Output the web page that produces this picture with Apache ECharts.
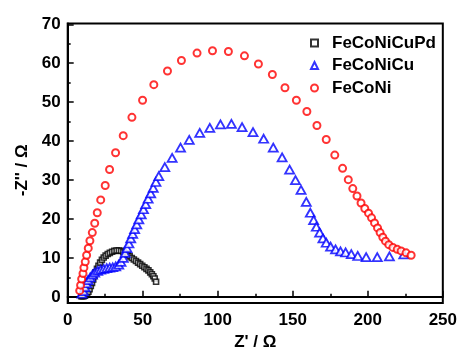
<!DOCTYPE html>
<html>
<head>
<meta charset="utf-8">
<script src="https://cdn.jsdelivr.net/npm/echarts@6/dist/echarts.min.js"></script>
<style>
  html, body { margin: 0; padding: 0; background: #fff; }
  #chart { width: 460px; height: 356px; }
</style>
</head>
<body>
<div id="chart"></div>
<script>
// Nyquist data, [Z', -Z'']
const feCoNiCuPd = [
  [9.0, 0.2], [9.8, 0.2], [10.6, 0.2], [11.4, 0.3], [12.2, 0.5], [13.0, 0.8], [13.8, 1.3],
  [14.6, 2.0], [15.4, 2.8], [16.2, 3.6], [17.0, 4.5], [17.8, 5.4], [18.6, 6.3], [19.5, 7.2],
  [20.5, 8.0], [21.6, 8.8], [22.8, 9.5], [24.0, 10.1], [25.3, 10.6], [26.7, 11.0], [28.1, 11.3],
  [29.6, 11.6], [31.1, 11.8], [32.6, 11.9], [34.1, 11.9], [35.6, 11.8], [37.1, 11.5], [38.5, 11.2],
  [39.9, 10.8], [41.3, 10.4], [42.7, 10.0], [44.1, 9.6], [45.5, 9.2], [46.9, 8.8], [48.3, 8.4],
  [49.7, 8.0], [51.1, 7.6], [52.5, 7.2], [53.8, 6.8], [55.0, 6.3], [56.1, 5.8], [57.1, 5.3],
  [58.0, 4.7], [58.9, 3.9]
];
const feCoNiCu = [
  [9.5, 0.8], [10.5, 1.5], [11.5, 2.5], [12.5, 3.5], [13.5, 4.3], [15.0, 5.0], [16.5, 5.7],
  [18.0, 6.2], [20.0, 6.7], [22.0, 7.0], [24.0, 7.2], [26.0, 7.4], [28.0, 7.5], [30.0, 7.6],
  [32.0, 7.8], [34.0, 8.3], [35.5, 9.0], [37.0, 10.0], [38.3, 11.3], [39.5, 12.5], [40.8, 13.7],
  [42.0, 15.0], [43.3, 16.2], [44.6, 17.4], [46.0, 18.6], [47.4, 19.9], [49.0, 21.2], [50.5, 22.5],
  [52.0, 23.8], [53.6, 25.2], [55.3, 26.6], [57.0, 28.0], [58.8, 29.5], [60.7, 31.0], [64.7, 33.3],
  [69.6, 35.7], [75.2, 38.3], [81.0, 40.3], [88.0, 42.1], [94.7, 43.4], [101.8, 44.3], [109.1, 44.4],
  [116.2, 43.6], [123.5, 42.3], [130.6, 40.6], [137.0, 38.3], [142.9, 35.8], [147.9, 32.7],
  [151.8, 30.0], [155.5, 27.5], [159.0, 24.4], [161.7, 21.6], [163.9, 19.7], [165.7, 18.0],
  [167.9, 16.5], [170.1, 15.0], [172.3, 13.9], [175.2, 12.9], [178.5, 12.2], [181.8, 11.7],
  [185.2, 11.4], [189.0, 11.0], [193.3, 10.5], [198.9, 10.2], [206.3, 10.2], [214.4, 10.4],
  [224.0, 10.9]
];
const feCoNi = [
  [8.0, 1.6], [8.6, 3.0], [9.3, 4.6], [10.2, 6.0], [10.8, 7.5], [11.7, 9.0], [12.6, 10.7],
  [13.7, 12.5], [14.8, 14.4], [16.4, 16.5], [18.0, 18.9], [19.7, 21.6], [22.0, 24.9], [25.0, 28.6],
  [27.9, 32.7], [31.9, 37.0], [37.0, 41.4], [42.8, 46.1], [49.9, 50.5], [57.4, 54.5], [66.5, 58.0],
  [75.8, 60.7], [86.2, 62.6], [96.5, 63.2], [107.1, 63.0], [117.8, 61.9], [127.1, 59.8],
  [136.4, 57.1], [144.8, 53.7], [152.4, 50.5], [159.4, 47.6], [166.1, 44.0], [172.3, 40.4],
  [178.0, 36.4], [183.2, 33.0], [187.0, 30.1], [190.0, 27.8], [192.8, 25.9], [195.5, 24.1],
  [198.0, 22.7], [200.5, 21.5], [202.5, 20.3], [204.5, 19.0], [206.5, 17.7], [208.2, 16.5],
  [210.0, 15.3], [211.8, 14.3], [214.0, 13.4], [216.7, 12.7], [219.6, 12.2], [222.2, 11.8],
  [225.5, 11.3], [228.9, 10.7]
];
const seriesNames = ["FeCoNiCuPd", "FeCoNiCu", "FeCoNi"];
const yMajor = [0, 10, 20, 30, 40, 50, 60, 70];
const yMinor = [5, 15, 25, 35, 45, 55, 65];

const font = 'Arial, "Liberation Sans", sans-serif';
const labelStyle = { fontFamily: font, fontWeight: "bold", fontSize: 17, color: "#000" };

const chart = echarts.init(document.getElementById("chart"), null, { renderer: "canvas" });
chart.setOption({
  animation: false,
  backgroundColor: "#fff",
  grid: {
    left: 67.7, right: 16.7, top: 23.5, bottom: 52,
    show: true, borderColor: "#000", borderWidth: 2, backgroundColor: "transparent"
  },
  legend: {
    orient: "vertical",
    left: 305,
    top: 29,
    itemWidth: 7,
    itemHeight: 7,
    itemGap: 4.5,
    textStyle: { ...labelStyle, lineHeight: 18, padding: [0, 0, 0, 9] },
    data: seriesNames
  },
  xAxis: {
    type: "value",
    min: 0, max: 250, interval: 50,
    name: "Z' / Ω",
    nameLocation: "middle",
    nameGap: 30,
    nameTextStyle: labelStyle,
    axisLine: { lineStyle: { color: "#000", width: 2 } },
    axisTick: { inside: true, length: 6, lineStyle: { color: "#000", width: 1.5 } },
    minorTick: { show: true, splitNumber: 2, length: 3, lineStyle: { color: "#000", width: 1.5 } },
    axisLabel: { ...labelStyle, margin: 9 },
    splitLine: { show: false }
  },
  yAxis: [
    {
      type: "value",
      min: -1.6, max: 70.2,
      name: "-Z'' / Ω",
      nameLocation: "middle",
      nameGap: 31,
      nameRotate: 90,
      nameTextStyle: { ...labelStyle, padding: [0, 14, 0, 0] },
      axisLine: { lineStyle: { color: "#000", width: 2 } },
      axisTick: { inside: true, length: 6, customValues: yMajor, lineStyle: { color: "#000", width: 1.5 } },
      axisLabel: { ...labelStyle, margin: 7, customValues: yMajor },
      splitLine: { show: false }
    },
    {
      type: "value",
      position: "left",
      min: -1.6, max: 70.2,
      axisLine: { show: false },
      axisTick: { inside: true, length: 3, customValues: yMinor, lineStyle: { color: "#000", width: 1.5 } },
      axisLabel: { show: false },
      splitLine: { show: false }
    }
  ],
  series: [
    {
      name: seriesNames[0],
      type: "scatter",
      symbol: "rect",
      symbolSize: 5,
      itemStyle: { color: "#fff", borderColor: "#000", borderWidth: 1.6 },
      data: feCoNiCuPd
    },
    {
      name: seriesNames[1],
      type: "scatter",
      symbol: "triangle",
      symbolSize: [9, 8],
      itemStyle: { color: "#fff", borderColor: "#0000ff", borderWidth: 1.8 },
      data: feCoNiCu
    },
    {
      name: seriesNames[2],
      type: "scatter",
      symbol: "circle",
      symbolSize: 7,
      itemStyle: { color: "#fff", borderColor: "#ff0000", borderWidth: 2 },
      data: feCoNi
    }
  ]
});
</script>
</body>
</html>
